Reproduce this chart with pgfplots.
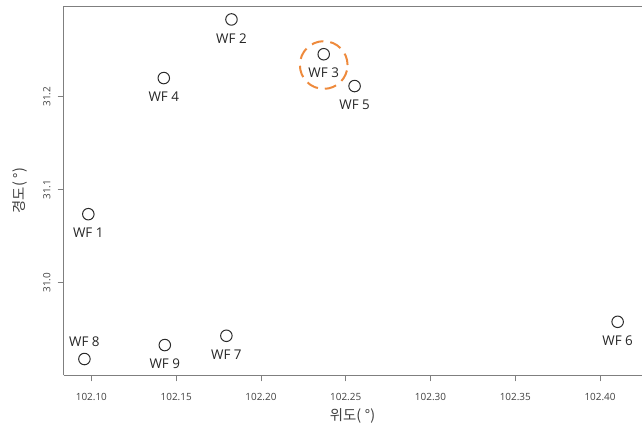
\documentclass[border=0pt]{standalone}
\usepackage{fontspec}
\setmainfont{Open Sans}
\newfontfamily\kr{Noto Sans CJK KR}
\usepackage{pgfplots}
\pgfplotsset{compat=1.18}
\definecolor{axgray}{HTML}{7F7F7F}
\definecolor{ticktxt}{HTML}{404040}
\definecolor{ptcol}{HTML}{2A2A2A}
\definecolor{hl}{HTML}{EE8A3C}
\begin{document}
\begin{tikzpicture}[x=1pt,y=1pt]
\begin{axis}[
  at={(0,0)}, anchor=south west,
  scale only axis, width=582pt, height=372pt,
  xmin=102.0836, xmax=102.4244,
  ymin=30.9004, ymax=31.2975,
  axis x line*=bottom, axis y line*=left,
  axis line style={axgray, line width=0.9pt, -},
  xtick={102.10,102.15,...,102.40},
  ytick={31.0,31.1,31.2},
  xticklabel style={/pgf/number format/fixed, /pgf/number format/fixed zerofill, /pgf/number format/precision=2},
  yticklabel style={/pgf/number format/fixed, /pgf/number format/fixed zerofill, /pgf/number format/precision=1, rotate=90, anchor=south},
  /pgf/number format/assume math mode=true,
  ticklabel style={font=\fontsize{10}{12}\selectfont, text=ticktxt},
  tick style={axgray, line width=0.8pt},
  tick align=outside, major tick length=6pt,
  xticklabel shift=8pt, yticklabel shift=3.5pt,
  xlabel={\kr 위도(\hspace{0.25em}°)}, ylabel={\kr 경도(\hspace{0.25em}°)},
  label style={font=\fontsize{14.5}{16}\selectfont, text=ticktxt},
  xlabel style={at={(axis description cs:0.5,0)}, anchor=center, yshift=-41pt},
  ylabel style={at={(axis description cs:0,0.5)}, anchor=center, yshift=44pt},
  clip=false,
]
\addplot[only marks, mark=o, mark size=5.8pt, mark options={ptcol, line width=1pt},
  nodes near coords, point meta=explicit symbolic,
  nodes near coords style={font=\fontsize{13.5}{15}\selectfont, text=black!85, anchor=center, yshift=-19pt}]
  table[meta=label] {
x y label
102.0982 31.0737 {WF 1}
102.1826 31.2830 {WF 2}
102.2370 31.2456 {WF 3}
102.1427 31.2200 {WF 4}
102.2552 31.2114 {WF 5}
102.4103 30.9580 {WF 6}
102.1796 30.9430 {WF 7}
102.1433 30.9330 {WF 9}
};
\addplot[only marks, mark=o, mark size=5.8pt, mark options={ptcol, line width=1pt},
  nodes near coords, point meta=explicit symbolic,
  nodes near coords style={font=\fontsize{13.5}{15}\selectfont, text=black!85, anchor=center, yshift=17.5pt}]
  table[meta=label] {
x y label
102.0959 30.9180 {WF 8}
};
\addplot[only marks, mark=o, mark size=24pt,
  mark options={hl, line width=2pt, dash pattern=on 12pt off 7pt}]
  coordinates {(102.2370,31.2340)};
\draw[axgray, line width=0.9pt] (rel axis cs:0,1) -- (rel axis cs:1,1);
\end{axis}
\useasboundingbox (-64,-51) rectangle (578,378);
\end{tikzpicture}
\end{document}
